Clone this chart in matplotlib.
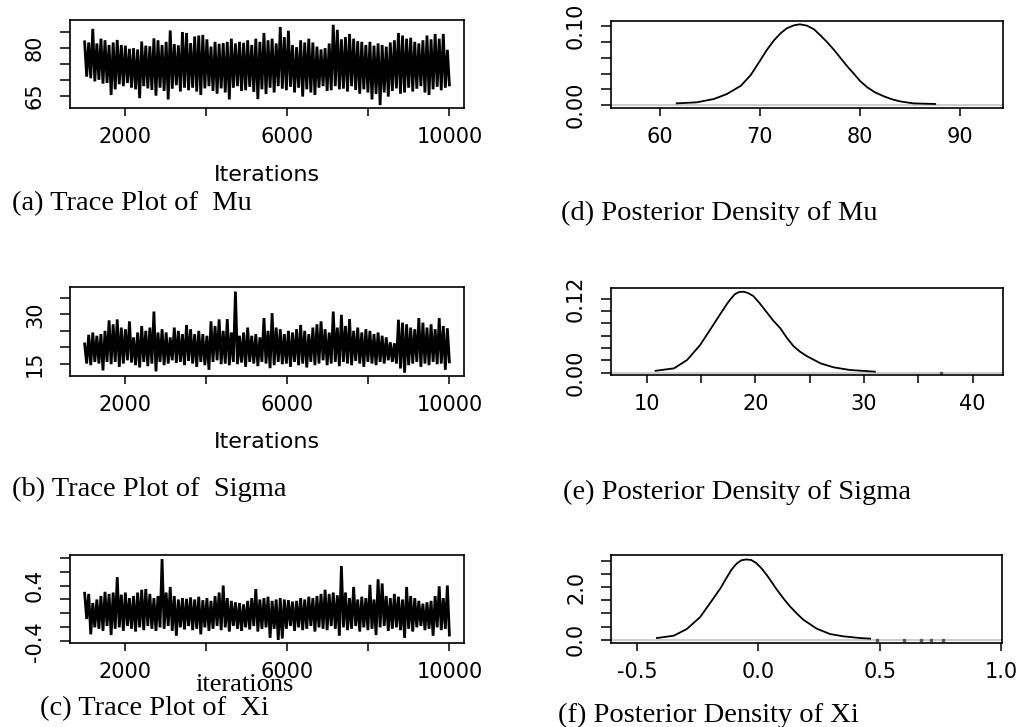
import numpy as np
import matplotlib
matplotlib.use("Agg")
import matplotlib.pyplot as plt

# ---------------- data ----------------
iter_start, iter_end = 1001, 10000

mu_upper = [82.0, 81.8, 86.1, 81.5, 83.0, 82.5, 81.0, 81.8, 82.6, 81.0,
            80.8, 79.8, 80.0, 79.6, 82.1, 80.8, 80.6, 83.1, 82.5, 81.0,
            82.0, 85.6, 81.3, 80.9, 85.1, 84.8, 81.6, 83.7, 84.0, 84.2,
            82.8, 80.5, 82.0, 81.4, 81.6, 82.0, 83.0, 81.5, 82.0, 81.7,
            82.5, 81.0, 83.0, 82.0, 84.8, 82.5, 83.0, 81.5, 86.7, 83.5,
            85.5, 81.0, 80.3, 82.5, 81.8, 83.0, 81.8, 80.5, 79.6, 80.0,
            81.5, 87.4, 85.8, 82.8, 83.5, 84.5, 83.0, 82.2, 82.0, 81.0,
            82.0, 80.8, 81.5, 81.0, 80.5, 81.8, 82.5, 84.8, 84.0, 83.0,
            83.3, 82.0, 81.5, 82.5, 84.0, 82.8, 84.5, 83.0, 84.5, 79.5]
mu_lower = [71.0, 70.5, 69.5, 70.0, 68.8, 69.0, 65.2, 67.0, 68.6, 68.0,
            69.0, 67.5, 67.0, 64.2, 68.0, 67.3, 66.8, 65.0, 67.5, 66.5,
            63.8, 67.2, 68.3, 66.3, 67.5, 66.7, 67.5, 66.3, 65.2, 67.3,
            68.0, 66.5, 65.6, 67.3, 66.0, 63.8, 67.5, 68.0, 66.5, 66.7,
            67.8, 66.2, 63.9, 67.0, 65.5, 67.5, 66.0, 68.0, 67.2, 66.7,
            67.8, 66.0, 67.5, 64.7, 67.0, 66.0, 65.2, 67.5, 68.0, 66.5,
            66.7, 68.0, 67.0, 67.2, 66.3, 68.0, 66.8, 65.6, 67.0, 66.0,
            63.8, 65.5, 62.0, 66.0, 64.7, 66.5, 67.3, 65.6, 66.0, 67.5,
            66.3, 67.2, 68.0, 66.0, 65.2, 67.0, 67.8, 66.7, 67.5, 68.4]

sigma_upper = [21.0, 23.8, 24.5, 23.5, 24.0, 25.0, 28.2, 27.0, 28.5, 26.0,
               25.5, 27.9, 23.0, 24.5, 26.5, 25.0, 26.0, 30.9, 24.5, 25.5,
               24.5, 23.0, 26.0, 25.0, 24.0, 26.8, 25.5, 24.0, 25.0, 24.0,
               23.5, 27.9, 26.5, 28.5, 25.0, 28.6, 24.5, 37.0, 23.5, 24.5,
               26.0, 23.5, 24.0, 23.0, 28.9, 25.0, 30.4, 26.0, 25.5, 24.0,
               25.0, 24.5, 25.5, 26.8, 25.0, 24.0, 26.0, 27.0, 27.9, 25.5,
               24.5, 30.9, 26.0, 29.9, 26.5, 28.6, 25.0, 26.0, 24.5, 25.5,
               25.0, 24.0, 24.5, 23.5, 23.0, 21.5, 21.2, 28.4, 27.5, 27.0,
               26.0, 25.5, 28.9, 27.5, 26.0, 27.0, 25.5, 28.9, 26.5, 25.8]
sigma_lower = [15.0, 14.5, 15.5, 15.0, 12.9, 15.5, 14.8, 15.5, 14.0, 15.0,
               16.0, 15.3, 14.5, 13.8, 15.5, 14.2, 15.0, 12.6, 15.5, 14.5,
               15.0, 16.0, 15.2, 15.5, 14.5, 15.8, 15.0, 14.0, 15.5, 14.5,
               13.1, 15.5, 16.0, 14.8, 15.0, 14.5, 15.5, 14.8, 15.3, 14.0,
               15.5, 15.0, 14.2, 15.5, 15.0, 13.6, 14.5, 15.5, 14.8, 15.0,
               14.0, 15.5, 14.5, 15.0, 13.8, 15.5, 14.5, 15.0, 16.0, 14.5,
               15.0, 15.5, 14.2, 15.5, 15.0, 14.5, 15.8, 15.0, 14.0, 15.5,
               15.0, 14.5, 15.5, 15.0, 16.0, 15.5, 15.0, 13.5, 12.2, 14.5,
               15.0, 15.5, 14.0, 15.0, 14.5, 15.5, 14.8, 15.0, 13.1, 15.5]

xi_upper = [0.29, 0.28, 0.15, 0.20, 0.25, 0.31, 0.28, 0.30, 0.52, 0.27,
            0.30, 0.22, 0.25, 0.30, 0.34, 0.35, 0.28, 0.22, 0.25, 0.78,
            0.30, 0.38, 0.25, 0.20, 0.22, 0.21, 0.23, 0.20, 0.24, 0.19,
            0.22, 0.18, 0.25, 0.30, 0.40, 0.22, 0.18, 0.16, 0.15, 0.13,
            0.18, 0.22, 0.35, 0.20, 0.22, 0.24, 0.18, 0.20, 0.22, 0.20,
            0.19, 0.17, 0.18, 0.22, 0.20, 0.24, 0.22, 0.25, 0.28, 0.34,
            0.28, 0.30, 0.26, 0.68, 0.30, 0.22, 0.38, 0.20, 0.24, 0.22,
            0.41, 0.20, 0.49, 0.43, 0.25, 0.22, 0.28, 0.24, 0.20, 0.38,
            0.25, 0.22, 0.18, 0.14, 0.16, 0.18, 0.25, 0.39, 0.22, 0.40]
xi_lower = [-0.08, -0.30, -0.20, -0.22, -0.25, -0.18, -0.31, -0.22, -0.20, -0.25,
            -0.18, -0.22, -0.26, -0.20, -0.24, -0.18, -0.22, -0.25, -0.20, -0.22,
            -0.18, -0.25, -0.32, -0.20, -0.23, -0.18, -0.24, -0.22, -0.30, -0.20,
            -0.25, -0.22, -0.18, -0.24, -0.20, -0.26, -0.18, -0.22, -0.25, -0.20,
            -0.23, -0.18, -0.26, -0.22, -0.20, -0.35, -0.22, -0.38, -0.36, -0.22,
            -0.18, -0.25, -0.20, -0.24, -0.22, -0.18, -0.26, -0.20, -0.22, -0.24,
            -0.18, -0.22, -0.32, -0.20, -0.24, -0.22, -0.18, -0.26, -0.20, -0.24,
            -0.22, -0.31, -0.20, -0.18, -0.25, -0.22, -0.20, -0.24, -0.35, -0.22,
            -0.26, -0.20, -0.18, -0.24, -0.22, -0.32, -0.20, -0.24, -0.22, -0.31]

mu_dens_x = [61.7, 63.7, 65.4, 66.7, 68.1, 69.1, 70.0, 70.7, 71.4, 72.1, 72.7, 73.4,
             74.0, 74.7, 75.4, 76.0, 76.7, 77.4, 78.0, 78.7, 79.4, 80.0, 80.7, 81.5,
             82.4, 83.2, 84.0, 85.3, 87.5]
mu_dens_y = [0.0021, 0.0034, 0.0076, 0.0139, 0.0244, 0.0382, 0.0560, 0.0700, 0.0820, 0.0915,
             0.0975, 0.1012, 0.1025, 0.1008, 0.0962, 0.0890, 0.0800, 0.0700, 0.0605, 0.0495,
             0.0395, 0.0305, 0.0227, 0.0160, 0.0109, 0.0072, 0.0046, 0.0021, 0.0013]

sigma_dens_x = [10.8, 12.5, 13.7, 14.9, 16.1, 16.8, 17.4, 17.8, 18.1, 18.5, 18.9, 19.3,
                19.8, 20.4, 21.0, 21.6, 22.3, 22.9, 23.5, 24.1, 24.7, 26.0, 27.2, 28.7, 31.0]
sigma_dens_y = [0.003, 0.007, 0.0205, 0.0447, 0.077, 0.096, 0.112, 0.121, 0.127, 0.1305, 0.131, 0.129,
                0.124, 0.112, 0.0985, 0.085, 0.0716, 0.056, 0.043, 0.034, 0.027, 0.015, 0.0086, 0.0043, 0.0016]
sigma_tail = [37.1]

xi_dens_x = [-0.418, -0.349, -0.295, -0.240, -0.185, -0.155, -0.130, -0.110, -0.090, -0.070,
             -0.050, -0.030, -0.010, 0.010, 0.035, 0.075, 0.105, 0.130, 0.160, 0.185,
             0.240, 0.295, 0.350, 0.418, 0.460]
xi_dens_y = [0.063, 0.15, 0.405, 0.86, 1.58, 1.98, 2.38, 2.68, 2.90, 3.03,
             3.06, 3.04, 2.93, 2.75, 2.46, 1.92, 1.55, 1.27, 0.98, 0.76,
             0.42, 0.215, 0.127, 0.063, 0.04]
xi_tail = [0.49, 0.60, 0.67, 0.71, 0.76]

trace_xticks = [2000, 4000, 6000, 8000, 10000]
trace_xlabels = ["2000", "", "6000", "", "10000"]

# ---------------- figure ----------------
W, H = 1026, 727
fig = plt.figure(figsize=(W / 100, H / 100), dpi=100)

SANS = "DejaVu Sans"
SERIF = "Liberation Serif"
TICK_FS = 15
TITLE_FS = 20.5


def add_ax(l, t, r, b):
    return fig.add_axes([l / W, 1 - b / H, (r - l) / W, (b - t) / H])


def style(ax, xticks, xlabels, yticks, ylabels):
    for s in ax.spines.values():
        s.set_linewidth(1.2)
    ax.set_xticks(xticks)
    ax.set_xticklabels(xlabels, fontsize=TICK_FS, family=SANS)
    ax.set_yticks(yticks)
    ax.set_yticklabels(ylabels, fontsize=TICK_FS, family=SANS, rotation=90,
                       va="center", ha="right")
    ax.tick_params(axis="x", length=6, width=1.1, pad=8, direction="out")
    ax.tick_params(axis="y", length=7, width=1.1, pad=11, direction="out")


def trace(ax, upper, lower):
    vals = np.column_stack([upper, lower]).ravel()
    xs = np.linspace(iter_start, iter_end, len(vals))
    ax.plot(xs, vals, color="black", lw=2.0, solid_joinstyle="miter")
    ax.set_xlim(640, 10360)


def ftext(x, y, s, **kw):
    fig.text(x / W, 1 - y / H, s, **kw)


# (a) trace Mu
ax = add_ax(70, 20, 464, 108)
trace(ax, mu_upper, mu_lower)
ax.set_ylim(61.1, 88.9)
style(ax, trace_xticks, trace_xlabels, [65, 70, 75, 80, 85], ["65", "", "", "80", ""])

# (b) trace Sigma
ax = add_ax(70, 287, 464, 376)
trace(ax, sigma_upper, sigma_lower)
ax.set_ylim(11.2, 38.4)
style(ax, trace_xticks, trace_xlabels, [15, 20, 25, 30, 35], ["15", "", "", "30", ""])

# (c) trace Xi
ax = add_ax(70, 555, 464, 643)
trace(ax, xi_upper, xi_lower)
ax.set_ylim(-0.424, 0.838)
style(ax, trace_xticks, trace_xlabels,
      [-0.4, -0.2, 0.0, 0.2, 0.4, 0.6, 0.8], ["-0.4", "", "", "", "0.4", "", ""])


def density(ax, xs, ys, tail=None):
    ax.axhline(0, color="#c8c8c8", lw=1.3, zorder=1)
    ax.plot(xs, ys, color="black", lw=1.3, zorder=2)
    if tail:
        ax.plot(tail, [0] * len(tail), ls="none", marker="s", ms=1.6,
                color="#555555", zorder=2)


# (d) density Mu
ax = add_ax(611, 21, 1003, 108)
density(ax, mu_dens_x, mu_dens_y)
ax.set_xlim(55.14, 94.27)
ax.set_ylim(-0.0038, 0.1067)
style(ax, [60, 70, 80, 90], ["60", "70", "80", "90"],
      [0, 0.02, 0.04, 0.06, 0.08, 0.10], ["0.00", "", "", "", "", "0.10"])

# (e) density Sigma
ax = add_ax(611, 288, 1003, 375)
density(ax, sigma_dens_x, sigma_dens_y, sigma_tail)
ax.set_xlim(6.69, 42.8)
ax.set_ylim(-0.0038, 0.137)
style(ax, [10, 15, 20, 25, 30, 35, 40], ["10", "", "20", "", "30", "", "40"],
      [0, 0.02, 0.04, 0.06, 0.08, 0.10, 0.12], ["0.00", "", "", "", "", "", "0.12"])

# (f) density Xi
ax = add_ax(611, 555, 1002, 643)
density(ax, xi_dens_x, xi_dens_y, xi_tail)
ax.set_xlim(-0.607, 1.003)
ax.set_ylim(-0.127, 3.23)
style(ax, [-0.5, 0.0, 0.5, 1.0], ["-0.5", "0.0", "0.5", "1.0"],
      [0, 0.5, 1.0, 1.5, 2.0, 2.5, 3.0], ["0.0", "", "", "", "2.0", "", ""])

# axis labels
ftext(267, 175, "Iterations", fontsize=16, family=SANS, ha="center", va="center")
ftext(267, 442, "Iterations", fontsize=16, family=SANS, ha="center", va="center")
ftext(245, 685, "iterations", fontsize=19, family=SERIF, ha="center", va="center")

# panel captions
ftext(12, 204, "(a) Trace Plot of  Mu", fontsize=TITLE_FS, family=SERIF, va="center")
ftext(12, 489, "(b) Trace Plot of  Sigma", fontsize=TITLE_FS, family=SERIF, va="center")
ftext(40, 709, "(c) Trace Plot of  Xi", fontsize=TITLE_FS, family=SERIF, va="center")
ftext(561, 213, "(d) Posterior Density of Mu", fontsize=TITLE_FS, family=SERIF, va="center")
ftext(563, 492, "(e) Posterior Density of Sigma", fontsize=TITLE_FS, family=SERIF, va="center")
ftext(558, 715, "(f) Posterior Density of Xi", fontsize=TITLE_FS, family=SERIF, va="center")

fig.savefig("out.png", dpi=100)
